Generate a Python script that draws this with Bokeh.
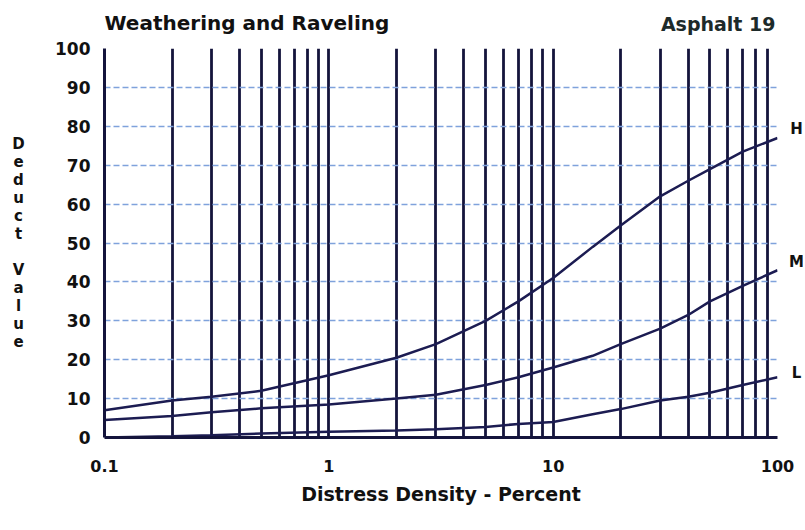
from bokeh.plotting import figure
from bokeh.layouts import column
from bokeh.models import Range1d, FixedTicker, Label, ColumnDataSource
from bokeh.embed import file_html
from bokeh.resources import INLINE

# ---- data ----
density = [0.1, 0.2, 0.3, 0.5, 1, 2, 3, 5, 7, 10, 15, 20, 30, 40, 50, 70, 100]
deduct_H = [7, 9.5, 10.5, 12, 16, 20.5, 24, 30, 35, 41, 49, 54.5, 62, 66, 69, 73.5, 77]
deduct_M = [4.5, 5.5, 6.5, 7.5, 8.5, 10, 11, 13.5, 15.5, 18, 21, 24, 28, 31.5, 35, 39, 43]
deduct_L = [0, 0.3, 0.6, 1, 1.5, 1.8, 2.1, 2.7, 3.5, 4, 6, 7.3, 9.5, 10.5, 11.5, 13.5, 15.5]
severity_names = ["H", "M", "L"]
x_major = [0.1, 1, 10, 100]
x_major_labels = {0.1: "0.1", 1: "1", 10: "10", 100: "100"}
x_minor = [m * d for d in (0.1, 1, 10) for m in range(2, 10)]
y_ticks = list(range(0, 101, 10))
title_text = "Weathering and Raveling"
subtitle_text = "Asphalt 19"
x_title = "Distress Density - Percent"
y_title = "Deduct Value"

FONT = "DejaVu Sans"
DARK = "#14143c"
CURVE = "#1c1c52"
TXT = "#111111"
W = 803

# ---- header strip with the two titles (its frame aligns with the chart frame) ----
head = figure(width=W, height=36, output_backend="svg", toolbar_location=None,
              x_axis_location=None, y_axis_location=None,
              x_range=Range1d(0, 1), y_range=Range1d(0, 1),
              min_border=0)
head.outline_line_color = None
head.grid.visible = False
head.add_layout(Label(x=0, y=14, x_units="screen", y_units="screen",
                      text=title_text, text_font=FONT, text_font_style="bold",
                      text_font_size="20px", text_color=TXT,
                      text_align="left", text_baseline="middle"))
head.add_layout(Label(x=671, y=13, x_units="screen", y_units="screen",
                      text=subtitle_text, text_font=FONT, text_font_style="bold",
                      text_font_size="19px", text_color="#1d2a2a",
                      text_align="right", text_baseline="middle"))

# ---- main chart ----
p = figure(width=W, height=486, x_axis_type="log",
           x_range=Range1d(0.1, 100), y_range=Range1d(0, 100),
           output_backend="svg", toolbar_location=None,
           min_border_left=104, min_border_right=26,
           min_border_top=12, min_border_bottom=85)
p.outline_line_color = None

p.xaxis.ticker = FixedTicker(ticks=x_major, minor_ticks=x_minor)
p.xaxis.major_label_overrides = x_major_labels
p.xaxis.axis_label = x_title
p.xaxis.axis_label_text_font = FONT
p.xaxis.axis_label_text_font_style = "bold"
p.xaxis.axis_label_text_font_size = "19px"
p.xaxis.axis_label_text_color = TXT
p.xaxis.axis_label_standoff = 8
p.xaxis.major_label_text_font = FONT
p.xaxis.major_label_text_font_style = "bold"
p.xaxis.major_label_text_font_size = "16px"
p.xaxis.major_label_text_color = TXT
p.xaxis.major_label_standoff = 22
p.xaxis.axis_line_color = DARK
p.xaxis.axis_line_width = 3
p.xaxis.major_tick_out = 0
p.xaxis.major_tick_in = 0
p.xaxis.minor_tick_out = 0
p.xaxis.minor_tick_in = 0

p.yaxis.ticker = FixedTicker(ticks=y_ticks)
p.yaxis.major_label_text_font = FONT
p.yaxis.major_label_text_font_style = "bold"
p.yaxis.major_label_text_font_size = "17px"
p.yaxis.major_label_text_color = TXT
p.yaxis.major_label_standoff = 14
p.yaxis.axis_line_color = DARK
p.yaxis.axis_line_width = 3
p.yaxis.major_tick_out = 0
p.yaxis.major_tick_in = 0
p.yaxis.minor_tick_out = 0
p.yaxis.minor_tick_in = 0

p.xgrid.grid_line_color = DARK
p.xgrid.grid_line_width = 2.8
p.xgrid.minor_grid_line_color = DARK
p.xgrid.minor_grid_line_width = 2.8
p.ygrid.grid_line_color = "#7fa2dc"
p.ygrid.grid_line_width = 1.5
p.ygrid.grid_line_dash = "6 3"

src = ColumnDataSource(dict(x=density, H=deduct_H, M=deduct_M, L=deduct_L))
for key in severity_names:
    p.line("x", key, source=src, line_color=CURVE, line_width=2.5)

# severity labels, anchored at each curve's end and offset to the right
ends = {"H": deduct_H[-1], "M": deduct_M[-1], "L": deduct_L[-1]}
lift = {"H": 9, "M": 8, "L": 4}
panel = {"H": "right", "M": "left", "L": "right"}
for key in severity_names:
    p.add_layout(Label(x=density[-1], y=ends[key], x_offset=19, y_offset=lift[key],
                       text=key, text_font=FONT, text_font_style="bold",
                       text_font_size="15px", text_color=TXT,
                       text_align="center", text_baseline="middle"), panel[key])

# stacked (upright letters) y-axis title, centred on the y axis
stacked = "\n".join(y_title)
p.add_layout(Label(x=x_major[0], y=(y_ticks[0] + y_ticks[-1]) / 2, x_offset=-86,
                   text=stacked, text_font=FONT, text_font_style="bold",
                   text_font_size="15px", text_color=TXT, text_line_height=1.0,
                   text_align="center", text_baseline="middle"), "left")

open("out.html", "w").write(file_html(column(head, p, spacing=0), INLINE))
